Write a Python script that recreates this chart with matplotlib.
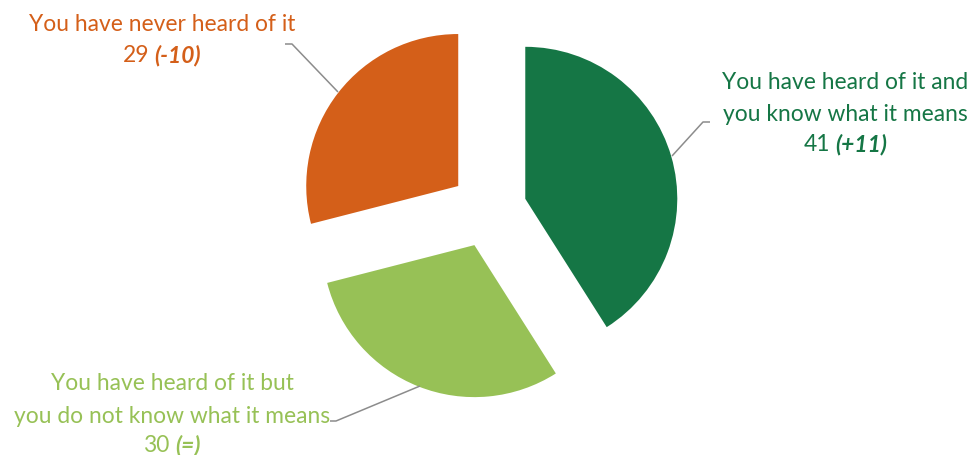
import matplotlib
matplotlib.use("Agg")
import matplotlib.pyplot as plt

values = [41, 30, 29]
changes = ["(+11)", "(=)", "(-10)"]
label_lines = [
    ["You have heard of it and", "you know what it means"],
    ["You have heard of it but", "you do not know what it means"],
    ["You have never heard of it"],
]
colors = ["#157645", "#97C156", "#D45F19"]

W, H = 971, 456
fig = plt.figure(figsize=(W / 100, H / 100), dpi=100)
ax = fig.add_axes([0, 0, 1, 1])

# pixel layout (y measured from top in the reference)
cx, cy, r = 488.5, 210.5, 152
ax.pie(values, colors=colors, startangle=90, counterclock=False,
       explode=[38.3] * 3, radius=r, center=(cx, H - cy),
       wedgeprops=dict(linewidth=0))
ax.set_xlim(0, W)
ax.set_ylim(0, H)
ax.set_aspect("equal")
ax.axis("off")

fs = 16.4
font = "Lato"
renderer = fig.canvas.get_renderer()

# label anchor x and baselines for each line (from top)
anchors = [
    (845, [89, 121, 151]),
    (172, [390, 423, 452]),
    (162, [31, 62]),
]
leaders = [
    [(672, 157), (703, 123), (710, 123)],
    [(420, 387), (336, 422), (330, 422)],
    [(338, 93), (292, 45), (285, 45)],
]

for i, (x, bases) in enumerate(anchors):
    c = colors[i]
    for line, b in zip(label_lines[i], bases):
        ax.text(x, H - b, line, ha="center", va="baseline", fontsize=fs,
                family=font, color=c)
    b = bases[len(label_lines[i])]
    t1 = ax.text(0, H - b, str(values[i]), ha="left", va="baseline",
                 fontsize=fs, family=font, color=c)
    t2 = ax.text(0, H - b, changes[i], ha="left", va="baseline",
                 fontsize=fs, family=font, color=c, fontweight="bold",
                 fontstyle="italic")
    w1 = t1.get_window_extent(renderer).width
    w2 = t2.get_window_extent(renderer).width
    gap = fs * 0.3
    left = x - (w1 + gap + w2) / 2
    t1.set_x(left)
    t2.set_x(left + w1 + gap)

    pts = leaders[i]
    ax.plot([p[0] for p in pts], [H - p[1] for p in pts], color="#8C8C8C",
            lw=1.1, solid_capstyle="butt")

fig.savefig("out.png", dpi=100)
